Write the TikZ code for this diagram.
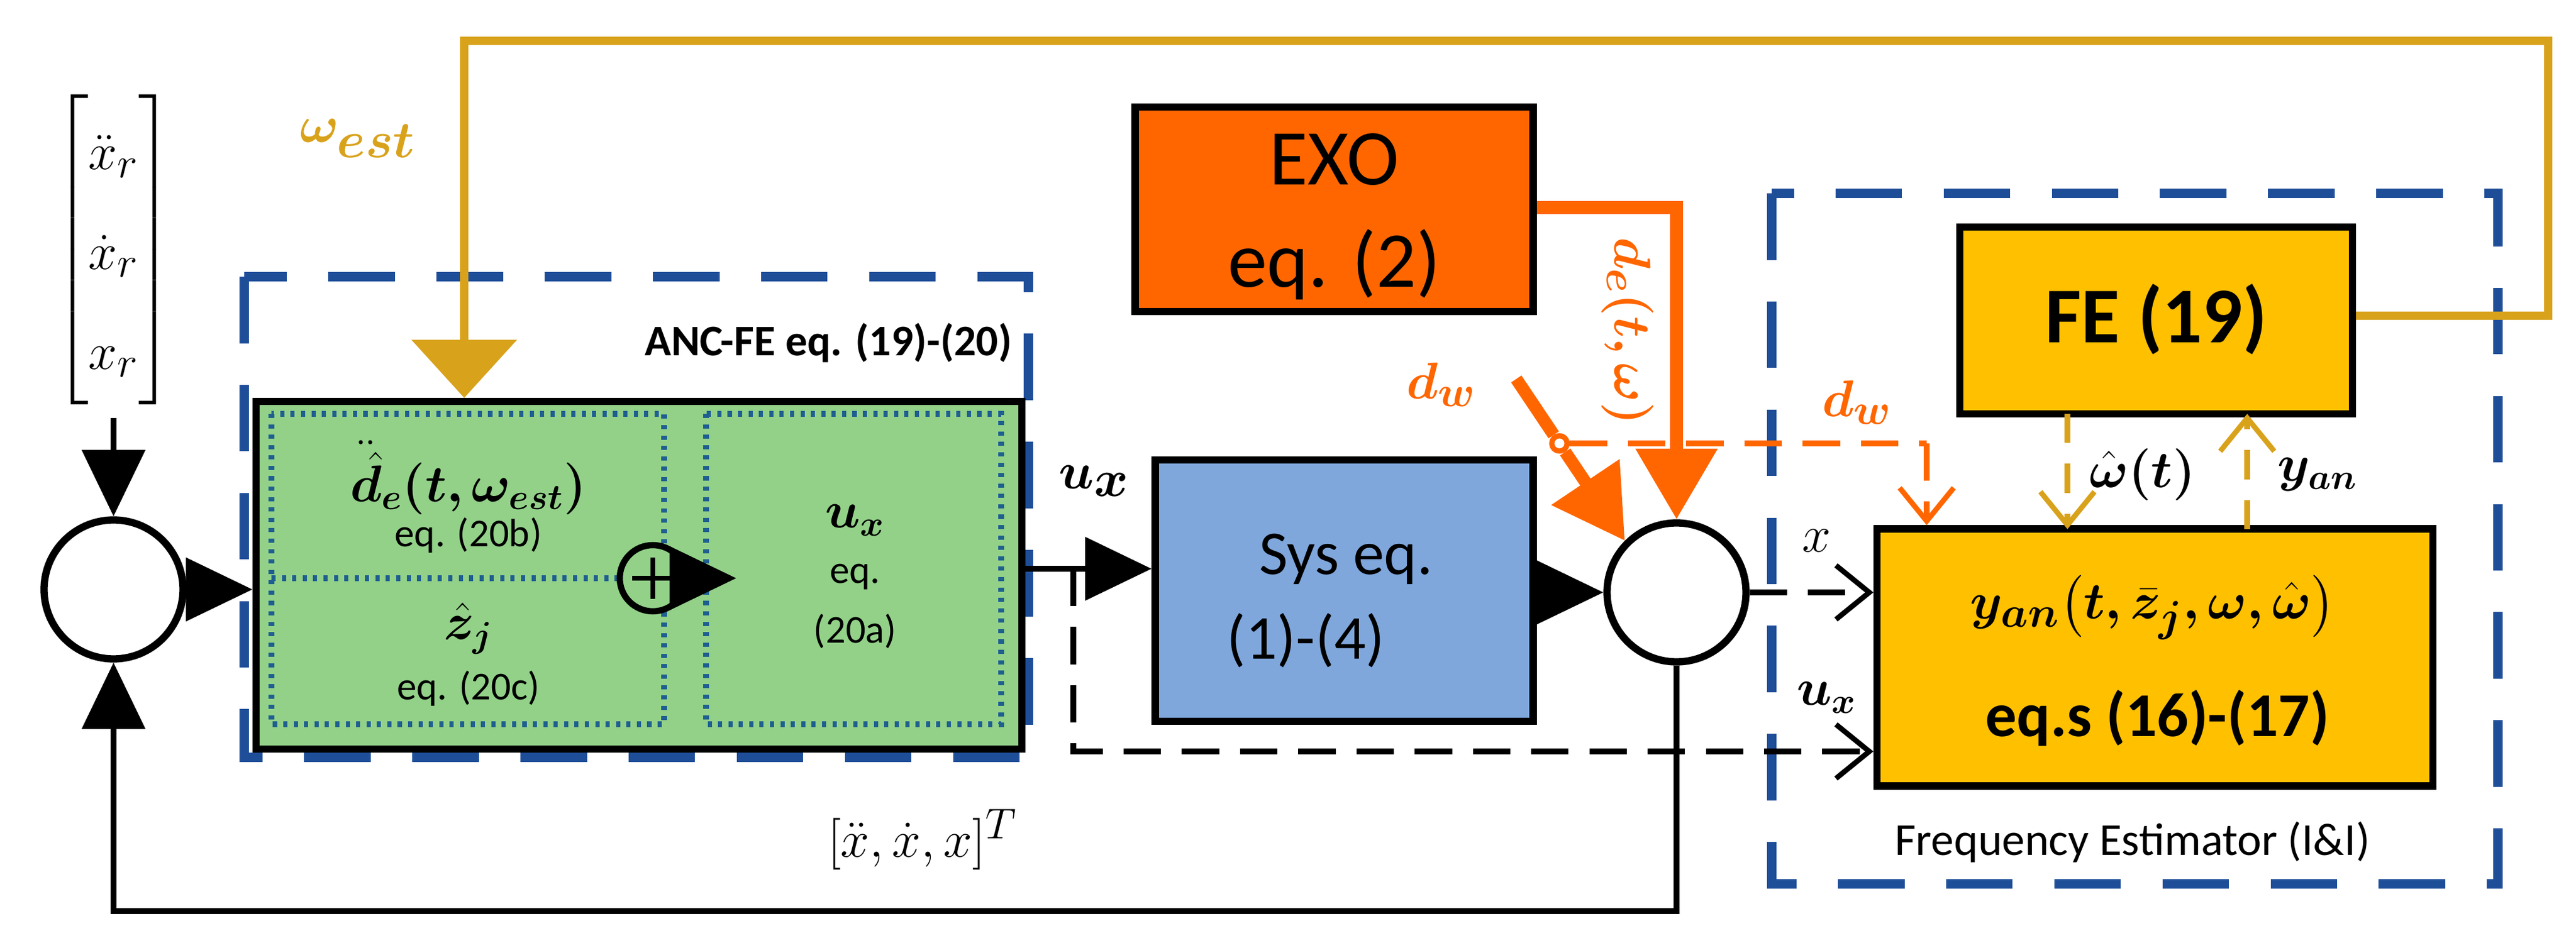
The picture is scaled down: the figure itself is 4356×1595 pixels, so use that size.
\documentclass[tikz,border=0pt]{standalone}
\usepackage{fontspec}
\setmainfont{Carlito}
\usepackage{amsmath,bm}
\usetikzlibrary{arrows.meta,calc}
\definecolor{orng}{HTML}{FF6600}
\definecolor{gld}{HTML}{D9A21B}
\definecolor{fey}{HTML}{FFC000}
\definecolor{grn}{HTML}{93D189}
\definecolor{sysb}{HTML}{7FA7DC}
\definecolor{dblue}{HTML}{1F4E99}
\definecolor{dotb}{HTML}{1F5F8F}
\setlength{\unitlength}{0.01cm}
\tikzset{
 box/.style={draw=black,line width=3.5pt,inner sep=0pt},
 dbox/.style={draw=dblue,line width=4.5pt,dash pattern=on 32pt off 20pt},
 dotbox/.style={draw=dotb,line width=3pt,dash pattern=on 2pt off 3pt},
 sig/.style={line width=3pt},
 tri/.style={-{Triangle[length=32pt,width=30pt]}},
 opn/.style={-{Straight Barb[length=16pt,width=26pt,line width=2.5pt]}},
 sumc/.style={draw,line width=3.5pt,circle,minimum size=235\unitlength,inner sep=0pt},
 lab/.style={inner sep=0pt},
}
\begin{document}
\begin{tikzpicture}[x=0.01cm,y=-0.01cm]
\useasboundingbox (0,0) rectangle (4356,1595);
% dashed frames
\draw[dbox] (413,468) rectangle (1739,1281);
\draw[dbox] (2996,327) rectangle (4224,1495);
\node[lab,anchor=east,font=\fontsize{21}{24}\selectfont\bfseries] at (1712,580) {ANC-FE eq. (19)-(20)};
\node[lab,font=\fontsize{22}{26}\selectfont] (fel) at (3606,1424) {Frequency Estimator (I\&I)};
% green box
\node[box,fill=grn,minimum width=1295\unitlength,minimum height=588\unitlength,anchor=north west] (anc) at (427,673) {};
\draw[dotbox] (459,700) rectangle (1123,1225);
\draw[dotbox] (1194,700) rectangle (1693,1225);
\draw[dotbox] (459,978) -- (1050,978);
\node[draw,circle,line width=3pt,minimum size=112\unitlength,inner sep=0pt,fill=grn] (plus) at (1104,978) {};
\draw[line width=2.5pt] ($(plus.center)+(-35,0)$) -- +(70,0) ($(plus.center)+(0,-35)$) -- +(0,70);
\draw[sig,tri] (plus.east) -- (1245,978);
\node[lab,font=\fontsize{24}{28}\selectfont] at (792,808) {$\bm{\ddot{\hat d}_e(t,\omega_{est})}$};
\node[lab,font=\fontsize{19}{22}\selectfont] at (792,905) {eq. (20b)};
\node[lab,font=\fontsize{24}{28}\selectfont] at (792,1063) {$\bm{\hat z_j}$};
\node[lab,font=\fontsize{19}{22}\selectfont] at (792,1164) {eq. (20c)};
\node[lab,font=\fontsize{24}{28}\selectfont] at (1446,880) {$\bm{u_x}$};
\node[lab,font=\fontsize{19}{22}\selectfont] at (1446,976) {eq.};
\node[lab,font=\fontsize{19}{22}\selectfont] at (1446,1068) {(20a)};
% reference vector
\node[lab,font=\fontsize{30}{48}\selectfont] (ref) at (192,422) {$\begin{bmatrix}\ddot x_r\\ \dot x_r\\ x_r\end{bmatrix}$};
% sums
\node[sumc] (s1) at (192,997) {};
\node[sumc] (s2) at (2835,1002) {};
\coordinate (rin) at (192,707);
\draw[sig,tri] (rin) -- (s1.north);
\draw[sig,tri] (s1.east) -- (anc.west|-s1.east);
% feedback
\coordinate (fb1) at (2835,1541);
\coordinate (fb2) at (192,1541);
\draw[sig,tri] (s2.south) -- (fb1) -- (fb2) -- (s1.south);
\node[lab,font=\fontsize{32}{36}\selectfont] at (1560,1420) {$[\ddot x,\dot x,x]^T$};
% EXO, Sys
\node[box,fill=orng,minimum width=673\unitlength,minimum height=346\unitlength] (exo) at (2256,354) {};
\node[lab,font=\fontsize{38}{44}\selectfont] at (2256,270) {EXO};
\node[lab,font=\fontsize{38}{44}\selectfont] at (2256,447) {eq. (2)};
\node[box,fill=sysb,minimum width=639\unitlength,minimum height=442\unitlength] (sys) at (2273,999) {};
\node[lab,font=\fontsize{30}{36}\selectfont] at (2276,946) {Sys eq.};
\node[lab,font=\fontsize{30}{36}\selectfont] at (2208,1083) {(1)-(4)};
% u_x signal
\coordinate (ux0) at (1722,962);
\draw[sig,tri] (ux0) -- (sys.west|-ux0);
\node[lab,font=\fontsize{40}{44}\selectfont] at (1850,814) {$\bm{u_x}$};
\draw[sig,tri] (sys.east|-s2) -- (s2.west);
% orange
\coordinate (oc) at (2835,351);
\draw[orng,line width=6pt,-{Triangle[length=34pt,width=38pt]}] (exo.east|-oc) -- (oc) -- (s2.north);
\node[lab,orng,rotate=-90,font=\fontsize{28}{32}\selectfont] at (2752,560) {$\bm{d_e(t,\omega)}$};
\coordinate (sw0) at (2564,641);
\node[draw=orng,fill=white,circle,line width=2.5pt,minimum size=26\unitlength,inner sep=0pt] (swc) at (2637,750) {};
\draw[orng,line width=6pt] (sw0) -- (swc);
\draw[orng,line width=6pt,-{Triangle[length=34pt,width=38pt]}] (swc) -- (s2.north west);
\node[lab,orng,font=\fontsize{28}{32}\selectfont] at (2437,651) {$\bm{d_w}$};
\coordinate (dwc) at (3258,750);
\draw[orng,line width=3pt,dash pattern=on 18pt off 10pt] (swc) -- (dwc);
\node[lab,orng,font=\fontsize{28}{32}\selectfont] at (3140,681) {$\bm{d_w}$};
% FE boxes
\node[box,fill=fey,minimum width=664\unitlength,minimum height=316\unitlength] (fe) at (3646,542) {};
\node[lab,font=\fontsize{38}{44}\selectfont\bfseries] at (3646,540) {FE (19)};
\node[box,fill=fey,minimum width=940\unitlength,minimum height=435\unitlength] (yan) at (3644,1112) {};
\node[lab,font=\fontsize{30}{36}\selectfont] at (3640,1027) {$\bm{y_{an}\big(t,\bar z_j,\omega,\hat\omega\big)}$};
\node[lab,font=\fontsize{30}{36}\selectfont\bfseries] at (3648,1215) {eq.s (16)-(17)};
\draw[orng,line width=3pt,dash pattern=on 18pt off 10pt,opn] (dwc) -- (dwc|-yan.north);
% gold
\coordinate (g1) at (4309,534);
\coordinate (g2) at (4309,69);
\coordinate (g3) at (785,69);
\draw[gld,line width=4pt,-{Triangle[length=28pt,width=50pt]}] (fe.east|-g1) -- (g1) -- (g2) -- (g3) -- (g3|-anc.north);
\node[lab,gld,font=\fontsize{40}{44}\selectfont] at (605,234) {$\bm{\omega_{est}}$};
\draw[gld,line width=3pt,dash pattern=on 14pt off 10pt,opn] (3496,700) -- (3496,895);
\draw[gld,line width=3pt,dash pattern=on 14pt off 10pt,opn] (3800,895) -- (3800,700);
\node[lab,font=\fontsize{26}{30}\selectfont] at (3623,803) {$\bm{\hat\omega(t)}$};
\node[lab,font=\fontsize{26}{30}\selectfont] at (3919,803) {$\bm{y_{an}}$};
% x and u_x to yan
\draw[line width=3pt,dash pattern=on 18pt off 10pt,opn] (s2.east) -- (yan.west|-s2);
\node[lab,font=\fontsize{26}{30}\selectfont] at (3072,915) {$x$};
\coordinate (d1) at (1815,962);
\coordinate (d2) at (1815,1271);
\draw[line width=3pt,dash pattern=on 18pt off 10pt,opn] (d1) -- (d2) -- (yan.west|-d2);
\node[lab,font=\fontsize{26}{30}\selectfont] at (3089,1180) {$\bm{u_x}$};
\end{tikzpicture}
\end{document}
